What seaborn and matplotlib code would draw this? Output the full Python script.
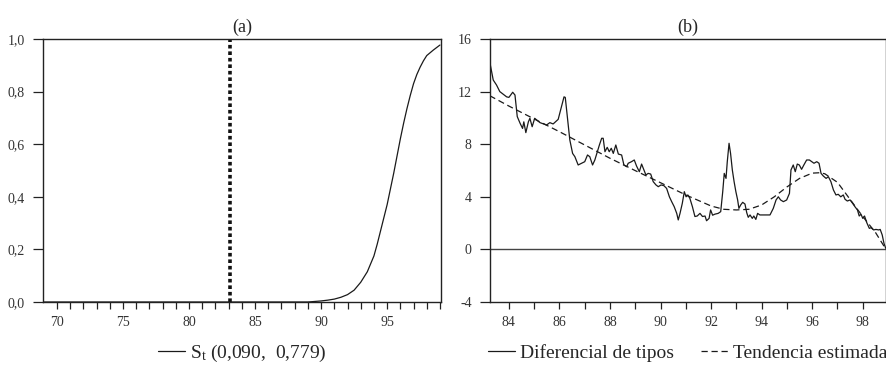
import numpy as np
import pandas as pd
import matplotlib
matplotlib.use("Agg")
import matplotlib.pyplot as plt
import seaborn as sns
from matplotlib.ticker import FuncFormatter, FixedLocator

# ---------------- data: panel (a) ----------------
s_year = [69.0, 89.0, 89.5, 90.0, 90.5, 91.0, 91.5, 92.0, 92.5, 93.0, 93.5, 94.0,
          94.25, 94.5, 94.75, 95.0, 95.25, 95.5, 95.75, 96.0, 96.25, 96.5, 96.75,
          97.0, 97.25, 97.5, 97.75, 98.0, 98.5, 99.0]
s_val = [0.0, 0.0, 0.002, 0.004, 0.007, 0.011, 0.018, 0.028, 0.045, 0.075, 0.115, 0.175,
         0.22, 0.27, 0.32, 0.37, 0.43, 0.49, 0.555, 0.62, 0.68, 0.735, 0.785,
         0.83, 0.865, 0.893, 0.917, 0.937, 0.958, 0.977]
break_year = 83.1
label_a = r"$\mathregular{S_t}$ (0,090,  0,779)"

# ---------------- data: panel (b) ----------------
dif_year = [83.24, 83.38, 83.51, 83.64, 83.91, 84.0, 84.15, 84.24, 84.33, 84.44, 84.54,
            84.59, 84.67, 84.77, 84.83, 84.92, 85.02, 85.1, 85.23, 85.49, 85.62, 85.75,
            85.95, 86.08, 86.18, 86.23, 86.31, 86.41, 86.52, 86.61, 86.74, 86.88, 87.0,
            87.11, 87.2, 87.31, 87.4, 87.5, 87.58, 87.67, 87.73, 87.8, 87.89, 87.97,
            88.05, 88.13, 88.23, 88.33, 88.46, 88.55, 88.66, 88.72, 88.85, 88.96, 89.05,
            89.16, 89.25, 89.34, 89.42, 89.51, 89.61, 89.71, 89.82, 89.91, 90.02, 90.13,
            90.24, 90.35, 90.44, 90.54, 90.64, 90.7, 90.77, 90.86, 90.94, 91.01, 91.08,
            91.16, 91.26, 91.36, 91.45, 91.56, 91.66, 91.76, 91.82, 91.92, 91.98, 92.06,
            92.15, 92.28, 92.38, 92.46, 92.52, 92.59, 92.64, 92.71, 92.77, 92.84, 92.91,
            92.98, 93.05, 93.1, 93.17, 93.25, 93.34, 93.41, 93.47, 93.54, 93.63, 93.69,
            93.77, 93.84, 93.93, 94.13, 94.33, 94.46, 94.57, 94.66, 94.75, 94.86, 94.99,
            95.1, 95.16, 95.25, 95.33, 95.41, 95.49, 95.58, 95.67, 95.78, 95.89, 95.98,
            96.07, 96.18, 96.27, 96.35, 96.44, 96.55, 96.64, 96.74, 96.84, 96.94, 97.03,
            97.13, 97.23, 97.3, 97.39, 97.5, 97.6, 97.69, 97.79, 97.86, 97.93, 98.0,
            98.07, 98.16, 98.26, 98.33, 98.43, 98.52, 98.63, 98.69, 98.77, 98.84, 98.91]
dif_val = [14.28, 12.88, 12.5, 12.0, 11.6, 11.56, 11.95, 11.74, 10.1, 9.6, 9.2,
           9.7, 8.88, 9.7, 9.97, 9.33, 9.97, 9.84, 9.64, 9.46, 9.64, 9.54,
           9.89, 10.85, 11.6, 11.56, 10.1, 8.32, 7.3, 7.05, 6.42, 6.55, 6.67,
           7.18, 7.05, 6.42, 6.8, 7.43, 7.94, 8.45, 8.45, 7.43, 7.76, 7.43,
           7.69, 7.3, 7.94, 7.25, 7.18, 6.42, 6.29, 6.55, 6.67, 6.8, 6.34,
           5.91, 6.49, 6.04, 5.66, 5.78, 5.73, 5.15, 4.9, 4.77, 4.9, 4.85,
           4.64, 4.0, 3.63, 3.25, 2.74, 2.24, 2.74, 3.5, 4.39, 4.0, 4.14,
           3.88, 3.25, 2.5, 2.54, 2.74, 2.5, 2.54, 2.18, 2.36, 3.0, 2.6,
           2.68, 2.74, 2.87, 4.39, 5.78, 5.4, 6.67, 8.07, 7.3, 6.04, 5.15,
           4.39, 3.76, 3.12, 3.38, 3.58, 3.45, 2.79, 2.44, 2.62, 2.36, 2.54,
           2.28, 2.74, 2.62, 2.62, 2.62, 3.12, 3.76, 4.0, 3.76, 3.63, 3.76,
           4.26, 6.04, 6.42, 5.91, 6.49, 6.42, 6.09, 6.42, 6.8, 6.8, 6.67,
           6.55, 6.67, 6.55, 5.78, 5.58, 5.4, 5.53, 5.15, 4.52, 4.14, 4.19,
           4.0, 4.14, 3.81, 3.68, 3.76, 3.5, 3.25, 3.0, 2.54, 2.68, 2.36,
           2.54, 2.03, 1.6, 1.65, 1.48, 1.52, 1.48, 1.52, 1.1, 0.46, 0.08]

trend_year = [83.24, 84.0, 85.0, 86.0, 87.0, 88.0, 89.0, 90.0, 91.0, 91.5, 92.0, 92.5,
              93.0, 93.5, 94.0, 94.5, 95.0, 95.5, 96.0, 96.3, 96.5, 97.0, 97.5, 98.0,
              98.5, 98.92]
trend_val = [11.69, 10.9, 9.92, 8.95, 7.94, 6.93, 5.99, 5.07, 4.14, 3.72, 3.3, 3.05,
             3.0, 3.05, 3.38, 4.0, 4.75, 5.4, 5.8, 5.83, 5.75, 5.1, 3.8, 2.5,
             1.3, 0.0]
label_dif = "Diferencial de tipos"
label_trend = "Tendencia estimada"

# ---------------- style ----------------
sns.set_style("ticks")
plt.rcParams["font.family"] = ["Liberation Serif", "DejaVu Serif"]
plt.rcParams["mathtext.fontset"] = "custom"
plt.rcParams["mathtext.rm"] = "Liberation Serif"
plt.rcParams["axes.unicode_minus"] = False
plt.rcParams["axes.linewidth"] = 1.0
plt.rcParams["axes.edgecolor"] = "#222222"
plt.rcParams["xtick.color"] = "#222222"
plt.rcParams["ytick.color"] = "#222222"

fig = plt.figure(figsize=(8.87, 3.65), dpi=100)
ax_a = fig.add_axes([43 / 887, 1 - 302 / 365, 398 / 887, 263 / 365])
ax_b = fig.add_axes([489.7 / 887, 1 - 302 / 365, 396.3 / 887, 263 / 365])

line_col = "#1a1a1a"
tick_fs = 10
leg_fs = 14
leg_kw = dict(loc="center", bbox_to_anchor=(0.5, -0.195), frameon=False,
              fontsize=leg_fs, handlelength=1.4, handletextpad=0.25)

# ---------- panel (a) ----------
df_a = pd.DataFrame({"year": s_year, "S": s_val})
sns.lineplot(data=df_a, x="year", y="S", ax=ax_a, color=line_col, lw=0.9,
             label=label_a)
ax_a.axvline(break_year, color="#111111", lw=2.6, linestyle=(0, (1, 0.8)))
ax_a.set_xlim(68.94, 99.08)
ax_a.set_ylim(0, 1.0)
ax_a.xaxis.set_major_locator(FixedLocator([70, 75, 80, 85, 90, 95]))
ax_a.xaxis.set_minor_locator(FixedLocator(list(range(70, 100))))
ax_a.yaxis.set_major_locator(FixedLocator([0, 0.2, 0.4, 0.6, 0.8, 1.0]))
ax_a.yaxis.set_major_formatter(FuncFormatter(lambda v, p: f"{v:.1f}".replace(".", ",")))
ax_a.set_xlabel("")
ax_a.set_ylabel("")
ax_a.set_title("(a)", fontsize=13, pad=5)
ax_a.legend(**leg_kw)

# ---------- panel (b) ----------
df_dif = pd.DataFrame({"year": dif_year, "v": dif_val})
df_tr = pd.DataFrame({"year": trend_year, "v": trend_val})
ax_b.axhline(0, color="#444444", lw=1.0)
sns.lineplot(data=df_dif, x="year", y="v", ax=ax_b, color=line_col, lw=0.9,
             label=label_dif)
sns.lineplot(data=df_tr, x="year", y="v", ax=ax_b, color=line_col, lw=0.9,
             linestyle=(0, (5, 3)), label=label_trend)
ax_b.set_xlim(83.24, 98.92)
ax_b.set_ylim(-4, 16)
ax_b.xaxis.set_major_locator(FixedLocator([84, 86, 88, 90, 92, 94, 96, 98]))
ax_b.xaxis.set_minor_locator(FixedLocator(list(range(84, 99))))
ax_b.yaxis.set_major_locator(FixedLocator([-4, 0, 4, 8, 12, 16]))
ax_b.yaxis.set_major_formatter(FuncFormatter(lambda v, p: f"{int(v)}"))
ax_b.set_xlabel("")
ax_b.set_ylabel("")
ax_b.set_title("(b)", fontsize=13, pad=5)
ax_b.legend(ncol=2, columnspacing=1.4, **leg_kw)

for ax in (ax_a, ax_b):
    ax.tick_params(axis="y", which="major", direction="out", length=7,
                   width=0.9, labelsize=tick_fs, pad=6, labelcolor="#333333")
    ax.tick_params(axis="x", which="major", direction="out", length=5,
                   width=0.9, labelsize=tick_fs, pad=5, labelcolor="#333333")
    ax.tick_params(axis="x", which="minor", direction="out", length=5, width=0.9)
    for s in ax.spines.values():
        s.set_visible(True)

fig.savefig("out.png", dpi=100)
